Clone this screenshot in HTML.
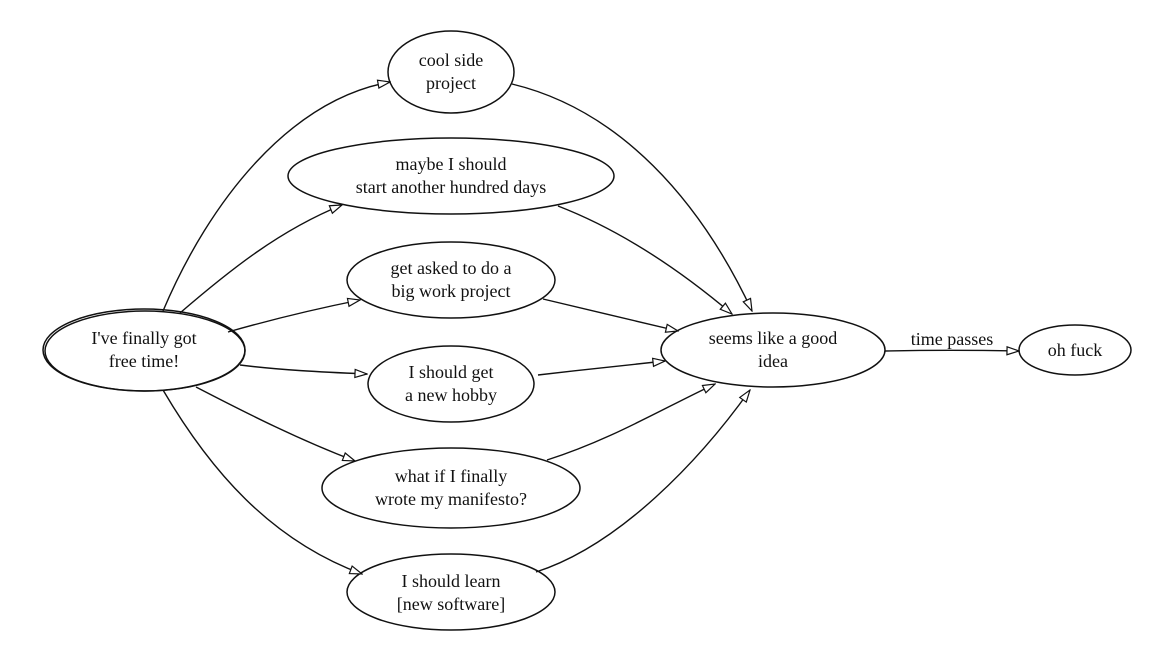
<!DOCTYPE html>
<html><head><meta charset="utf-8"><style>
html,body{margin:0;padding:0;background:#fff;}
svg{display:block;}
text{font-family:"Liberation Serif",serif;font-size:18px;fill:#111;text-anchor:middle;}
.n{fill:none;stroke:#111;stroke-width:1.5;}
.e{fill:none;stroke:#111;stroke-width:1.4;}
</style></head><body>
<svg width="1161" height="658" viewBox="0 0 1161 658" xmlns="http://www.w3.org/2000/svg">
<defs>
<marker id="a" markerWidth="14" markerHeight="10" refX="13" refY="5" orient="auto" markerUnits="userSpaceOnUse">
<path d="M1,1 L13,5 L1,9 Z" fill="#fff" stroke="#111" stroke-width="1.2"/>
</marker>
</defs>
<!-- nodes -->
<ellipse class="n" cx="144" cy="350" rx="101" ry="41"/>
<ellipse class="n" cx="145" cy="351" rx="100" ry="40" stroke-width="0.8"/>
<ellipse class="n" cx="451" cy="72" rx="63" ry="41"/>
<ellipse class="n" cx="451" cy="176" rx="163" ry="38"/>
<ellipse class="n" cx="451" cy="280" rx="104" ry="38"/>
<ellipse class="n" cx="451" cy="384" rx="83" ry="38"/>
<ellipse class="n" cx="451" cy="488" rx="129" ry="40"/>
<ellipse class="n" cx="451" cy="592" rx="104" ry="38"/>
<ellipse class="n" cx="773" cy="350" rx="112" ry="37"/>
<ellipse class="n" cx="1075" cy="350" rx="56" ry="25"/>
<!-- labels -->
<text x="144" y="344">I've finally got</text><text x="144" y="367">free time!</text>
<text x="451" y="66">cool side</text><text x="451" y="89">project</text>
<text x="451" y="170">maybe I should</text><text x="451" y="193">start another hundred days</text>
<text x="451" y="274">get asked to do a</text><text x="451" y="297">big work project</text>
<text x="451" y="378">I should get</text><text x="451" y="401">a new hobby</text>
<text x="451" y="482">what if I finally</text><text x="451" y="505">wrote my manifesto?</text>
<text x="451" y="587">I should learn</text><text x="451" y="610">[new software]</text>
<text x="773" y="344">seems like a good</text><text x="773" y="367">idea</text>
<text x="1075" y="356">oh fuck</text>
<text x="952" y="345">time passes</text>
<!-- edges from start -->
<path class="e" marker-end="url(#a)" d="M163,311 C210,200 290,100 390,82"/>
<path class="e" marker-end="url(#a)" d="M180,313 C230,270 280,230 342,205"/>
<path class="e" marker-end="url(#a)" d="M228,332 C270,320 310,310 360,300"/>
<path class="e" marker-end="url(#a)" d="M240,365 C280,370 320,372 367,374"/>
<path class="e" marker-end="url(#a)" d="M196,387 C250,415 300,440 355,461"/>
<path class="e" marker-end="url(#a)" d="M163,390 C210,470 270,540 362,574"/>
<!-- edges to seems -->
<path class="e" marker-end="url(#a)" d="M512,84 C620,110 700,200 752,311"/>
<path class="e" marker-end="url(#a)" d="M558,206 C620,230 680,270 732,314"/>
<path class="e" marker-end="url(#a)" d="M543,299 C590,310 630,320 678,331"/>
<path class="e" marker-end="url(#a)" d="M538,375 C580,370 620,366 665,361"/>
<path class="e" marker-end="url(#a)" d="M547,460 C610,440 660,410 715,384"/>
<path class="e" marker-end="url(#a)" d="M536,572 C620,545 700,460 750,390"/>
<path class="e" marker-end="url(#a)" d="M885,351 C930,350 970,350 1019,351"/>
</svg>
</body></html>
